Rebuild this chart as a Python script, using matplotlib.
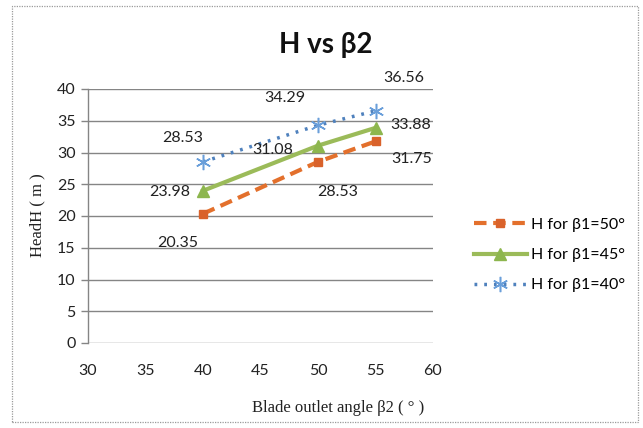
import matplotlib
matplotlib.use("Agg")
import matplotlib.pyplot as plt
from matplotlib.patches import Rectangle

plt.rcParams['font.family'] = ['Lato', 'DejaVu Sans']

beta2 = [40, 50, 55]
h_b50 = [20.35, 28.53, 31.75]
h_b45 = [23.98, 31.08, 33.88]
h_b40 = [28.53, 34.29, 36.56]
series_names = ["H for β1=50°", "H for β1=45°", "H for β1=40°"]
x_ticks = [30, 35, 40, 45, 50, 55, 60]
y_ticks = [0, 5, 10, 15, 20, 25, 30, 35, 40]

fig = plt.figure(figsize=(6.43, 4.28), dpi=100)
ax = fig.add_axes([88 / 643, 1 - 343 / 428, 345 / 643, 254 / 428])

grid_c = '#858585'
for y in y_ticks:
    ax.axhline(y, color=grid_c, lw=1.0, zorder=0)

l50, = ax.plot(beta2, h_b50, color='#E3702C', lw=3, ls=(0, (3, 1.6)),
               marker='s', ms=6, mfc='#D9622B', mec='#D9622B', zorder=3)
l45, = ax.plot(beta2, h_b45, color='#9BBB59', lw=3, ls='-',
               marker='^', ms=9, mfc='#8DB64E', mec='#8DB64E', zorder=3)
l40, = ax.plot(beta2, h_b40, color='#4F81BD', lw=2.5, ls=(0, (0.8, 2.0)),
               marker=(6, 2, 0), ms=11, mew=1.1, mfc='#6A9FDA', mec='#6A9FDA', zorder=3)

# data labels with per-point pixel offsets
offsets_b50 = [(-25, -29), (20, -30), (36, -18)]
offsets_b45 = [(-33, -1), (-45, -4), (35, 3)]
offsets_b40 = [(-20, 24), (-33, 27), (28, 33)]
for vals, offs in ((h_b50, offsets_b50), (h_b45, offsets_b45), (h_b40, offsets_b40)):
    for x, v, (dx, dy) in zip(beta2, vals, offs):
        ax.annotate(f"{v:.2f}", (x, v), xytext=(dx, dy), textcoords='offset pixels',
                    ha='center', va='center', fontsize=11.5, color='#222222')

ax.set_xlim(30, 60)
ax.set_ylim(0, 40)
ax.set_xticks(x_ticks)
ax.set_yticks(y_ticks)
ax.tick_params(axis='x', length=0, pad=15, labelsize=11.5, colors='#222222')
ax.tick_params(axis='y', length=5, width=1, color=grid_c, pad=4, labelsize=11.5, labelcolor='#222222')
ax.set_xticks([30, 60], minor=True)
ax.tick_params(axis='x', which='minor', length=6, width=1, color=grid_c)
for s in ('top', 'right', 'bottom'):
    ax.spines[s].set_visible(False)
ax.spines['left'].set_color(grid_c)
ax.spines['left'].set_linewidth(1)

fig.text(326 / 643, 1 - 45 / 428, "H vs β2", ha='center', va='center',
         fontsize=20, fontweight='bold', color='#111111')
fig.text(338 / 643, 1 - 408 / 428, "Blade outlet angle β2 ( ° )", ha='center', va='center',
         fontsize=12, family=['Liberation Serif', 'DejaVu Serif'], color='#222222')
fig.text(37 / 643, 1 - 215 / 428, "HeadH ( m )", ha='center', va='center', rotation=90,
         fontsize=12, family=['Liberation Serif', 'DejaVu Serif'], color='#222222')

fig.legend([l50, l45, l40], series_names, loc='center left',
           bbox_to_anchor=(466 / 643, 1 - 255 / 428), frameon=False, fontsize=11.5,
           handlelength=3.3, handletextpad=0.3, labelspacing=1.0, borderpad=0)

fig.add_artist(Rectangle((12 / 643, 6 / 428), 626 / 643, 416 / 428, transform=fig.transFigure,
                         fill=False, ec='#9a9a9a', lw=0.9, ls=(0, (1, 1))))

fig.savefig("out.png", dpi=100)
